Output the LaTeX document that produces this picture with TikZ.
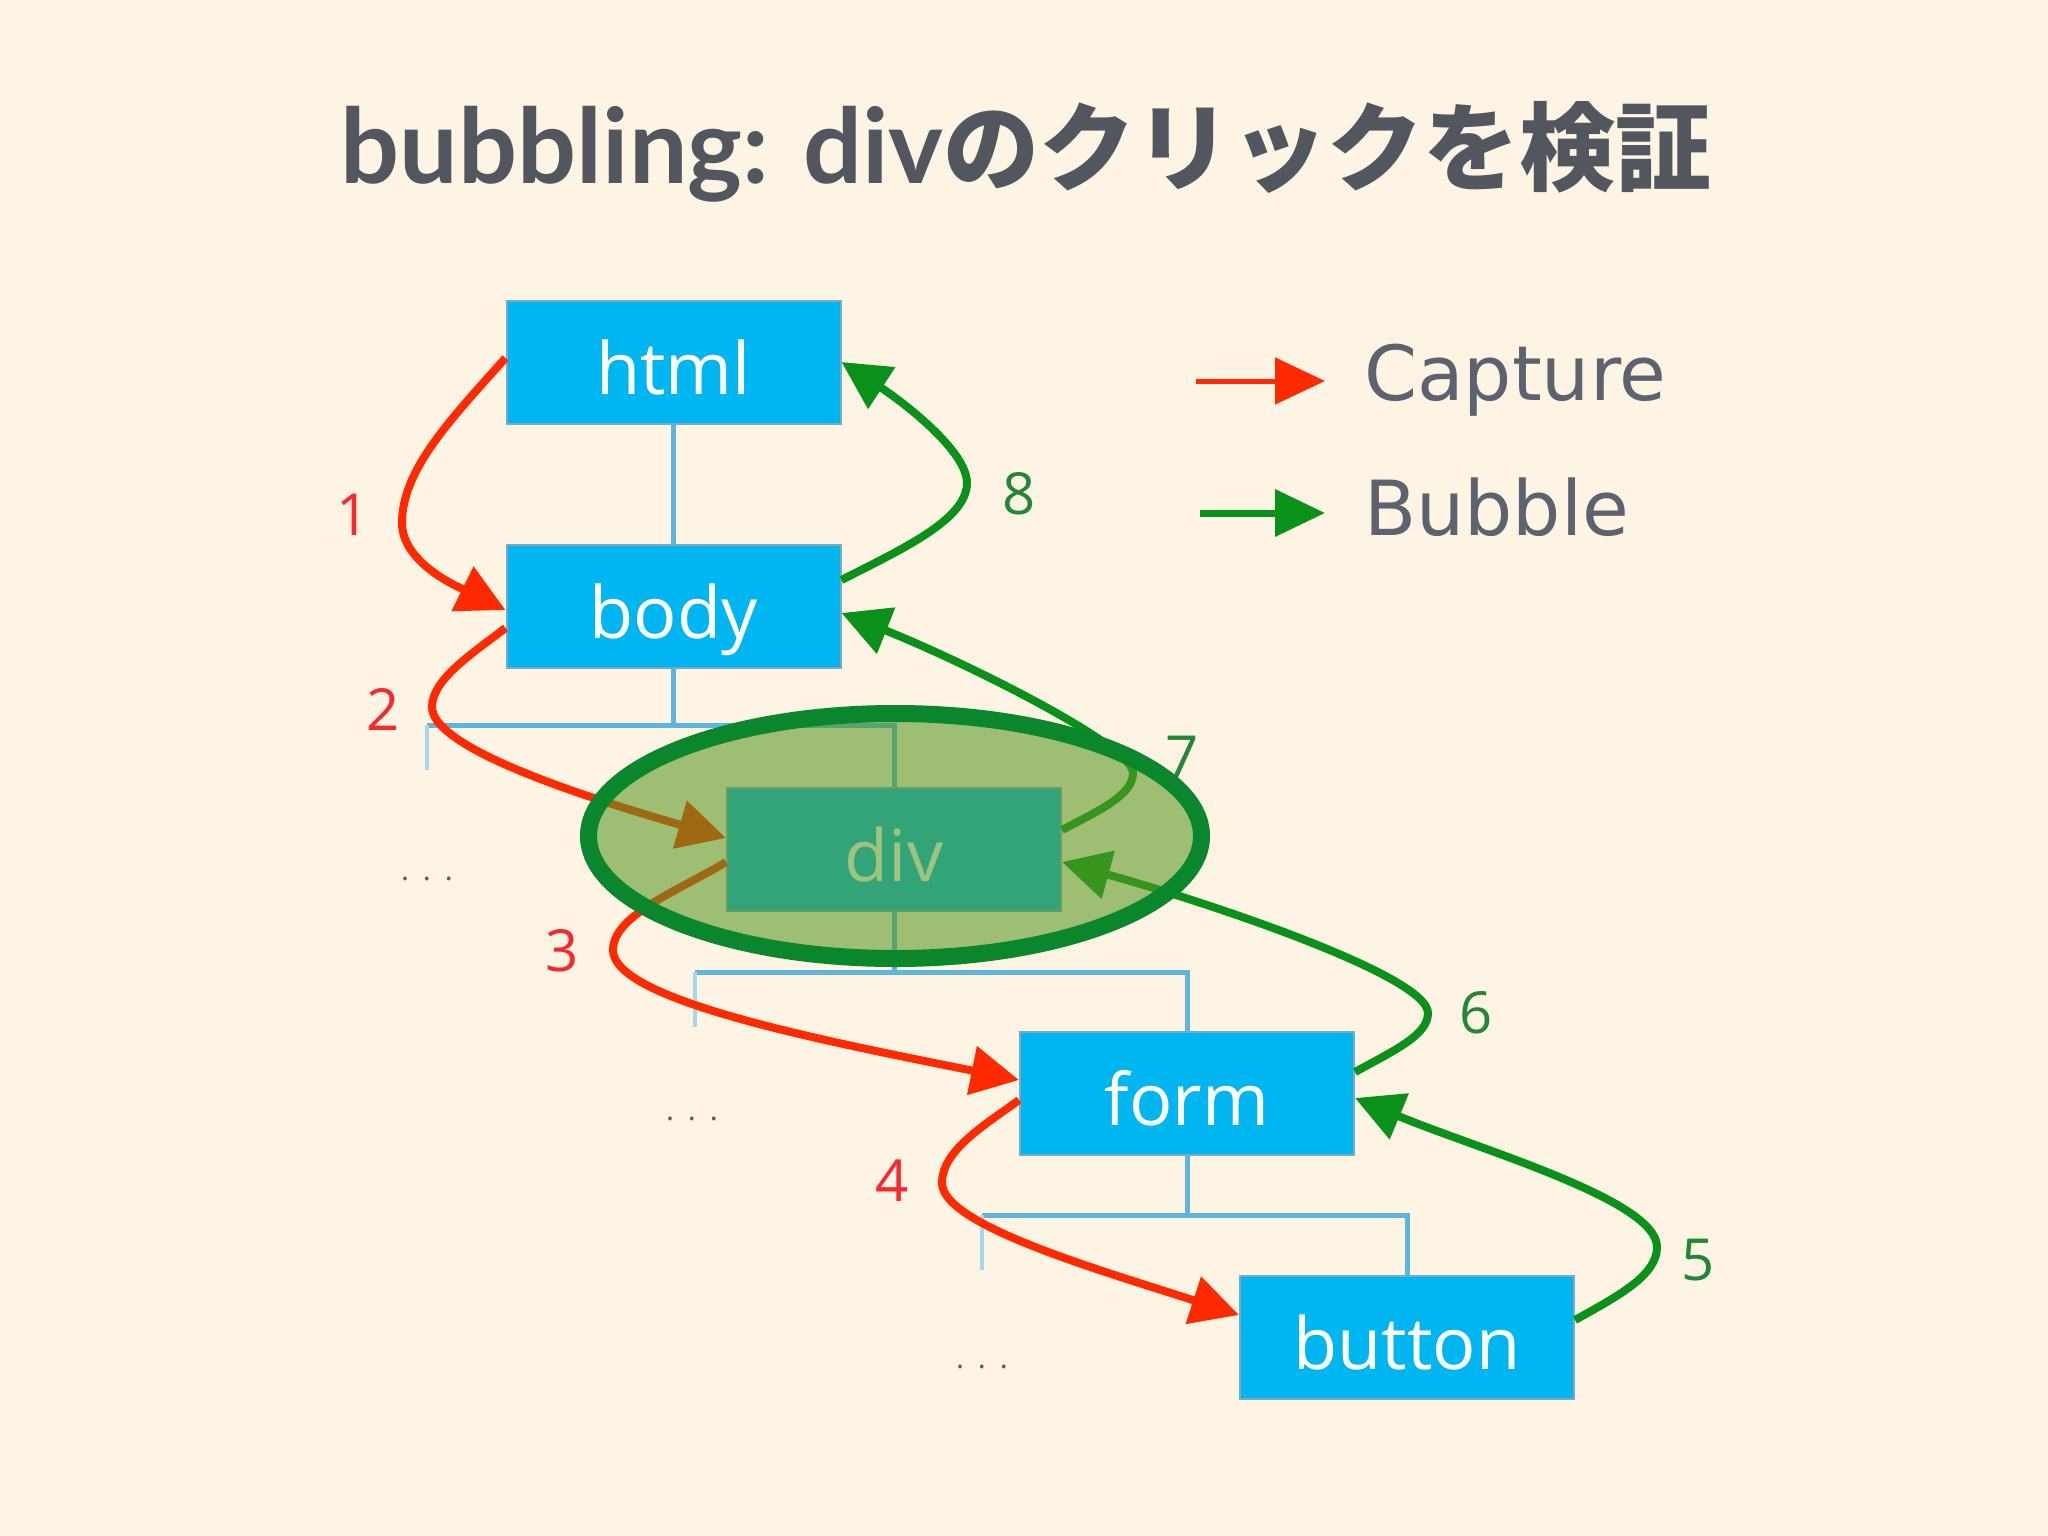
\documentclass[tikz,border=0pt]{standalone}
\usepackage{fontspec}
\setmainfont{Open Sans}
\newfontfamily\latofont{Lato}
\newfontfamily\cjkfont{Noto Sans CJK JP}
\newfontfamily\dejavufont{DejaVu Sans}
\usetikzlibrary{arrows.meta,shapes.geometric}
\definecolor{bgc}{RGB}{253,244,228}
\definecolor{boxblue}{RGB}{0,182,240}
\definecolor{boxedge}{RGB}{120,170,195}
\definecolor{treec}{RGB}{95,180,222}
\definecolor{capred}{RGB}{255,42,0}
\definecolor{bubgreen}{RGB}{10,145,25}
\definecolor{numred}{RGB}{250,40,45}
\definecolor{numgreen}{RGB}{35,135,55}
\definecolor{titlec}{RGB}{82,87,95}
\definecolor{legc}{RGB}{92,98,110}
\definecolor{ellfill}{RGB}{88,152,34}
\definecolor{ellline}{RGB}{10,135,45}
\definecolor{dotc}{RGB}{90,90,95}
\tikzset{
  dombox/.style={rectangle, fill=boxblue, draw=boxedge, line width=2pt,
    minimum width=334pt, minimum height=123pt, inner sep=0pt, text=white,
    font=\fontsize{72}{80}\selectfont, text height=64pt, text depth=0pt},
  tree/.style={draw=treec, line width=5pt},
  treefaint/.style={draw=treec!55, line width=4pt},
  caparrow/.style={draw=capred, line width=8pt, -{Triangle[length=48pt,width=48pt]}},
  bubarrow/.style={draw=bubgreen, line width=8pt, -{Triangle[length=48pt,width=48pt]}},
  numr/.style={text=numred, font=\fontsize{58}{60}\selectfont, inner sep=0pt},
  numg/.style={text=numgreen, font=\fontsize{58}{60}\selectfont, inner sep=0pt},
  dotlabel/.style={text=dotc, font=\fontsize{30}{30}\selectfont, inner sep=0pt},
  legtext/.style={text=legc, font=\dejavufont\fontsize{76}{80}\selectfont, anchor=base west, inner sep=0pt},
}
\begin{document}
\begin{tikzpicture}[x=1pt,y=1pt]
\useasboundingbox (0,0) rectangle (2048,-1536);
\fill[bgc] (0,0) rectangle (2048,-1536);

% title
\node[anchor=base, text=titlec, inner sep=0pt] (title) at (1026,-183)
  {{\latofont\bfseries\fontsize{104}{110}\selectfont bubbling: div}{\cjkfont\bfseries\fontsize{96}{110}\selectfont のクリックを検証}};

% boxes
\node[dombox] (html) at (673.5,-362) {html};
\node[dombox] (body) at (673.5,-606) {body};
\node[dombox] (div) at (894,-849) {div};
\node[dombox] (form) at (1187,-1093) {form};
\node[dombox] (button) at (1407,-1337) {button};

% tree lines
\coordinate (bodyL) at (427,-725);
\coordinate (bodyLd) at (427,-770);
\coordinate (divL) at (695,-972);
\coordinate (divLd) at (695,-1027);
\coordinate (formL) at (982,-1215);
\coordinate (formLd) at (982,-1270);
\draw[tree] (html.south) -- (body.north);
\draw[tree] (body.south) -- (body.south |- bodyL);
\draw[tree] (bodyL) -- (bodyL -| div.north) -- (div.north);
\draw[treefaint] (bodyL) -- (bodyLd);
\draw[tree] (div.south) -- (div.south |- divL);
\draw[tree] (divL) -- (divL -| form.north) -- (form.north);
\draw[treefaint] (divL) -- (divLd);
\draw[tree] (form.south) -- (form.south |- formL);
\draw[tree] (formL) -- (formL -| button.north) -- (button.north);
\draw[treefaint] (formL) -- (formLd);

% dots
\node[dotlabel] (dots1) at (427,-879) {.\hspace{14pt}.\hspace{14pt}.};
\node[dotlabel] (dots2) at (692,-1119) {.\hspace{14pt}.\hspace{14pt}.};
\node[dotlabel] (dots3) at (982,-1367) {.\hspace{14pt}.\hspace{14pt}.};

% capture arrows
\draw[caparrow] ([yshift=4pt]html.west) .. controls (450,-420) and (402,-470) .. (402,-523)
  .. controls (402,-565) and (465,-590) .. ([yshift=-4pt]body.west);
\draw[caparrow] ([yshift=-22pt]body.west) .. controls (470,-655) and (432,-680) .. (432,-707)
  .. controls (432,-745) and (560,-790) .. ([yshift=11pt]div.west);
\draw[caparrow] ([yshift=-13pt]div.west) .. controls (680,-890) and (613,-915) .. (613,-950)
  .. controls (613,-1000) and (820,-1040) .. ([yshift=13pt]form.west);
\draw[caparrow] ([yshift=-7pt]form.west) .. controls (985,-1125) and (942,-1150) .. (942,-1183)
  .. controls (942,-1225) and (1100,-1270) .. ([yshift=22pt]button.west);

% bubble arrows
\draw[bubarrow] ([yshift=17pt]button.east) .. controls (1620,-1295) and (1657,-1275) .. (1657,-1247)
  .. controls (1657,-1200) and (1480,-1150) .. ([yshift=-5pt]form.east);
\draw[bubarrow] ([yshift=21pt]form.east) .. controls (1395,-1050) and (1428,-1035) .. (1428,-1013)
  .. controls (1428,-975) and (1200,-900) .. ([yshift=-13pt]div.east);
\draw[bubarrow] ([yshift=19pt]div.east) .. controls (1100,-810) and (1133,-795) .. (1133,-773)
  .. controls (1133,-745) and (960,-660) .. ([yshift=-7pt]body.east);
\draw[bubarrow] ([yshift=26pt]body.east) .. controls (900,-550) and (967,-520) .. (967,-483)
  .. controls (967,-450) and (900,-400) .. (html.east);

% step numbers
\node[numr] (n1) at (353,-515) {1};
\node[numr] (n2) at (383,-709) {2};
\node[numr] (n3) at (562,-951) {3};
\node[numr] (n4) at (892,-1181) {4};
\node[numg] (n5) at (1698,-1260) {5};
\node[numg] (n6) at (1476,-1013) {6};
\node[numg] (n7) at (1182,-757) {7};
\node[numg] (n8) at (1019,-494) {8};

% legend
\coordinate (capS) at (1196,-381);
\coordinate (capE) at (1325,-381);
\coordinate (bubS) at (1200,-513);
\coordinate (bubE) at (1325,-513);
\draw[draw=capred, line width=5pt, -{Triangle[length=50pt,width=46pt]}] (capS) -- (capE);
\draw[draw=bubgreen, line width=7pt, -{Triangle[length=50pt,width=46pt]}] (bubS) -- (bubE);
\node[legtext] (capture) at (1364,-400) {Capture};
\node[legtext] (bubble) at (1364,-535) {Bubble};

% highlight ellipse over div
\node[ellipse, minimum width=613pt, minimum height=245pt, fill=ellfill, fill opacity=0.58,
  draw=ellline, line width=17pt] (focus) at (895,-836) {};
\end{tikzpicture}
\end{document}
